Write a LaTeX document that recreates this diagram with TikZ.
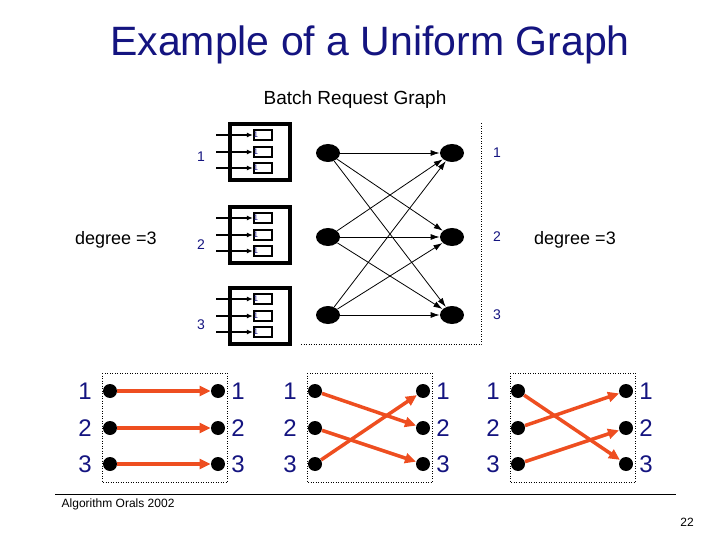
\documentclass[tikz,border=0pt]{standalone}
\usepackage{fontspec}
\setmainfont{Liberation Sans}
\usetikzlibrary{arrows.meta, shapes.geometric}
\definecolor{navytext}{RGB}{20,20,128}
\definecolor{matchred}{RGB}{238,78,32}

\begin{document}
\begin{tikzpicture}[x=1pt, y=-1pt, thick,
  swbox/.style={draw, line width=3.4pt, minimum width=60pt, minimum height=56pt, inner sep=0pt},
  queue/.style={draw, line width=2.2pt, minimum width=18pt, minimum height=10pt, inner sep=0pt},
  feed/.style={line width=1.3pt, -{Latex[length=6pt, width=5pt]}},
  onelab/.style={text=navytext, font=\fontsize{8}{8}\selectfont, inner sep=0pt},
  blob/.style={ellipse, fill=black, minimum width=24pt, minimum height=18pt, inner sep=0pt},
  edge/.style={line width=0.8pt, -{Latex[length=9pt, width=6pt]}},
  frame/.style={dotted, line width=0.5pt},
  smalllab/.style={text=navytext, font=\fontsize{14}{16}\selectfont},
  biglab/.style={text=navytext, font=\fontsize{24}{28}\selectfont},
  mdot/.style={circle, fill=black, minimum size=14pt, inner sep=0pt},
  match/.style={draw=matchred, line width=3.5pt, -{Triangle[length=11pt, width=10pt]}}]
  \useasboundingbox (0,0) rectangle (720,540);
  \node[text=navytext, font=\fontsize{41}{46}\selectfont] (title) at (370,45) {Example of a Uniform Graph};
  \node[font=\fontsize{19}{22}\selectfont] (subtitle) at (355,100) {Batch Request Graph};
  \node[font=\fontsize{18}{20}\selectfont] (degl) at (116,240) {degree =3};
  \node[font=\fontsize{18}{20}\selectfont] (degr) at (575,240) {degree =3};
  \foreach \b/\y/\ly in {1/152/157, 2/235/245, 3/316/325} {
    \node[swbox] (sw\b) at (260,\y) {};
    \node[smalllab] (swlab\b) at (201,\ly) {\b};
    \foreach \q/\dy in {1/-17, 2/0, 3/16} {
      \node[queue] (q\b\q) at (263,\y+\dy) {};
      \coordinate (in\b\q) at (216,\y+\dy);
      \draw[feed] (in\b\q) -- (q\b\q.west);
      \node[onelab] (one\b\q) at ([xshift=3pt]q\b\q.west) {1};
    }
  }
  \foreach \i/\y in {1/153, 2/237, 3/315} {
    \node[blob] (L\i) at (328,\y) {};
    \node[blob] (R\i) at (452,\y) {};
    \node[smalllab] (rlab\i) at (497,\y) {\i};
  }
  \foreach \i in {1,2,3}
    \foreach \j in {1,2,3}
      \draw[edge] (L\i) -- (R\j);
  \draw[frame] (301,344) -- (481,344) -- (481,122);
  \foreach \p/\xa in {a/110, b/315, c/518} {
    \draw[frame] (\xa-8,373) rectangle (\xa+117,482);
    \foreach \r/\y in {1/391, 2/428, 3/464} {
      \node[mdot] (\p-l\r) at (\xa,\y) {};
      \node[mdot] (\p-r\r) at (\xa+108,\y) {};
      \node[biglab] (\p-ll\r) at (\xa-25,\y) {\r};
      \node[biglab] (\p-rl\r) at (\xa+128,\y) {\r};
    }
  }
  \draw[match] (a-l1) -- (a-r1);
  \draw[match] (a-l2) -- (a-r2);
  \draw[match] (a-l3) -- (a-r3);
  \draw[match] (b-l1) -- (b-r2);
  \draw[match] (b-l2) -- (b-r3);
  \draw[match] (b-l3) -- (b-r1);
  \draw[match] (c-l1) -- (c-r3);
  \draw[match] (c-l2) -- (c-r1);
  \draw[match] (c-l3) -- (c-r2);
  \draw[line width=1pt] (55,494) -- (676,494);
  \node[anchor=west, font=\fontsize{12}{14}\selectfont] (footer) at (58,504) {Algorithm Orals 2002};
  \node[font=\fontsize{12}{14}\selectfont] (page) at (687,522) {22};
\end{tikzpicture}
\end{document}
